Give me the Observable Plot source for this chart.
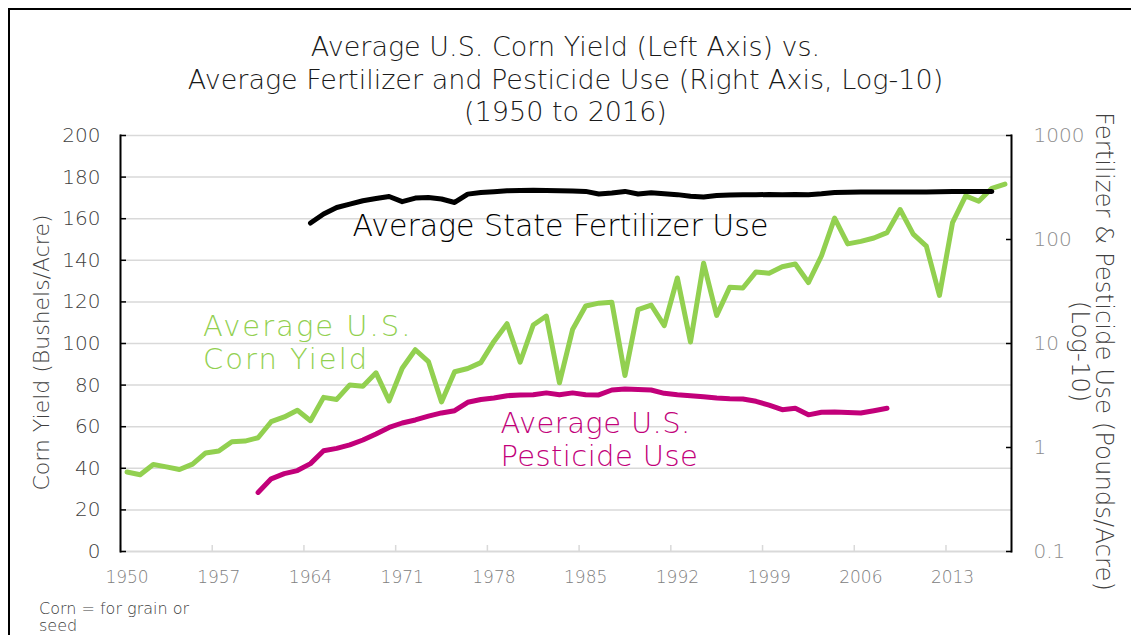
<!DOCTYPE html>
<html><head><meta charset="utf-8">
<script src="https://cdn.jsdelivr.net/npm/d3@7"></script>
<script src="https://cdn.jsdelivr.net/npm/@observablehq/plot@0.6"></script>
<style>
body{margin:0;background:#fff;font-family:"DejaVu Sans ExtraLight","DejaVu Sans",sans-serif;font-weight:200;overflow:hidden;}
#frame{position:absolute;left:8px;top:8px;width:1200px;height:700px;border:2px solid #000;pointer-events:none;}
#title{height:120px;box-sizing:border-box;padding-top:31px;text-align:center;font-size:27px;line-height:32.5px;color:#1a1a1a;white-space:nowrap;}
#caption{padding-left:39px;padding-top:0px;font-size:16px;line-height:17px;color:#404040;}
#chart svg{display:block;overflow:visible;}
#chart svg text{font-weight:200;}
</style></head>
<body>
<div id="title">Average U.S. Corn Yield (Left Axis) vs.<br>Average Fertilizer and Pesticide Use (Right Axis, Log-10)<br>(1950 to 2016)</div>
<div id="chart"></div>
<div id="caption">Corn = for grain or<br>seed</div>
<div id="frame"></div>
<script>
// Corn yield, bushels/acre, 1950–2017
const cornStart = 1950;
const cornYield = [38.2,36.9,41.8,40.7,39.4,42.0,47.4,48.3,52.8,53.1,
  54.7,62.4,64.7,67.9,62.9,74.1,73.1,80.1,79.5,85.9,
  72.4,88.1,97.0,91.3,71.9,86.4,88.0,90.8,101.0,109.5,
  91.0,108.9,113.2,81.1,106.7,118.0,119.4,119.8,84.6,116.3,
  118.5,108.6,131.5,100.7,138.6,113.5,127.1,126.7,134.4,133.8,
  136.9,138.2,129.3,142.2,160.3,147.9,149.1,150.7,153.3,164.4,
  152.6,146.8,123.1,158.1,171.0,168.4,174.6,176.6];
// Average state fertilizer use, pounds/acre, 1964–2016
const fertStart = 1964;
const fertilizerUse = [144,176,203,219,236,248,259,231,250,254,
  245,227,273,283,288,294,296,298,296,294,
  292,290,274,280,290,274,282,276,270,260,
  256,265,268,270,269,271,269,271,269,275,
  283,285,286,286,286,286,286,287,288,289,
  290,290,289];
// Average U.S. pesticide use, pounds/acre, 1960–2008
const pestStart = 1960;
const pesticideUse = [0.37,0.50,0.56,0.60,0.70,0.93,0.98,1.06,1.18,1.35,
  1.56,1.72,1.84,2.00,2.15,2.26,2.72,2.89,2.99,3.15,
  3.20,3.22,3.35,3.22,3.35,3.22,3.20,3.57,3.66,3.62,
  3.57,3.32,3.22,3.15,3.08,2.99,2.95,2.93,2.78,2.56,
  2.31,2.38,2.06,2.18,2.20,2.17,2.15,2.26,2.38];

const leftTicks = [0,20,40,60,80,100,120,140,160,180,200];
const rightTicks = [0.1,1,10,100,1000];
const xTickYears = [1950,1957,1964,1971,1978,1985,1992,1999,2006,2013];

const labels = [
  {text:"Average State Fertilizer Use", year:1967.2, value:156.6, color:"#000000", size:30, spacing:0},
  {text:"Average U.S.\nCorn Yield", year:1955.8, value:100.6, color:"#92d050", size:29, spacing:2},
  {text:"Average U.S.\nPesticide Use", year:1978.5, value:54, color:"#c2007a", size:29, spacing:0.4}
];

// right (log-10) axis mapped onto the left axis range: 0.1 -> 0, 1000 -> 200
const toLeft = v => (Math.log10(v) + 1) * 50;
const fromLeft = d => Math.pow(10, d / 50 - 1);

const corn = cornYield.map((v,i)=>({year:cornStart+i, value:v}));
const fert = fertilizerUse.map((v,i)=>({year:fertStart+i, value:v}));
const pest = pesticideUse.map((v,i)=>({year:pestStart+i, value:v}));

const lineStyle = {strokeWidth:5, strokeLinecap:"round", strokeLinejoin:"round"};
const noText = () => "";

const plot = Plot.plot({
  width:1131, height:480,
  marginLeft:120, marginRight:120, marginTop:15, marginBottom:49,
  style:{fontFamily:"'DejaVu Sans ExtraLight', 'DejaVu Sans', sans-serif", overflow:"visible", background:"transparent"},
  x:{domain:[1949.5, 2017.5], axis:null},
  y:{domain:[0,200], axis:null},
  marks:[
    Plot.ruleY(leftTicks.slice(1), {stroke:"#d9d9d9", strokeWidth:1.5}),
    Plot.ruleY([0], {stroke:"#d9d9d9", strokeWidth:2}),
    Plot.axisX(xTickYears.map(y=>y-0.5), {anchor:"bottom", tickSize:6, dy:-6, stroke:"#d9d9d9", strokeWidth:1.5, tickFormat:noText, label:null}),
    Plot.axisX(xTickYears, {anchor:"bottom", tickSize:0, tickPadding:19, tickFormat:d=>String(d), fill:"#808080", fontSize:17, label:null}),
    Plot.frame({anchor:"left", stroke:"#000", strokeWidth:2}),
    Plot.axisY(leftTicks, {anchor:"left", tickSize:6, dx:6, stroke:"#000", strokeWidth:1.5, tickFormat:noText, label:null}),
    Plot.axisY(leftTicks, {anchor:"left", tickSize:0, tickPadding:20, fill:"#404040", fontSize:20, label:null}),
    Plot.frame({anchor:"right", stroke:"#000", strokeWidth:2}),
    Plot.axisY(rightTicks.map(toLeft), {anchor:"right", tickSize:6, dx:-6, stroke:"#000", strokeWidth:1.5, tickFormat:noText, label:null}),
    Plot.axisY(rightTicks.map(toLeft), {anchor:"right", tickSize:0, tickPadding:22, fill:"#8c8c8c", fontSize:20, label:null,
      tickFormat:d=>d3.format("~g")(+fromLeft(d).toPrecision(3))}),
    Plot.text(["Corn Yield (Bushels/Acre)"], {frameAnchor:"left", textAnchor:"middle", rotate:-90, dx:-79, dy:9, fill:"#404040", fontSize:22}),
    Plot.text(["Fertilizer & Pesticide Use (Pounds/Acre)\n(Log-10)"], {frameAnchor:"right", textAnchor:"middle", rotate:90, dx:80, dy:8, fill:"#404040", fontSize:24.4, lineHeight:0.99, lineAnchor:"middle"}),
    Plot.lineY(corn, {x:"year", y:"value", stroke:"#92d050", ...lineStyle}),
    Plot.lineY(fert, {x:"year", y:d=>toLeft(d.value), stroke:"#000000", ...lineStyle}),
    Plot.lineY(pest, {x:"year", y:d=>toLeft(d.value), stroke:"#c2007a", ...lineStyle}),
    ...labels.map(l => Plot.text([l], {x:"year", y:"value", text:"text", fill:l.color, fontSize:l.size, textAnchor:"start", lineAnchor:"middle", lineHeight:33 / l.size}))
  ]
});
// letter spacing for the in-chart series labels
labels.forEach(l => {
  d3.select(plot).selectAll("g").filter(function() {
    return (this.getAttribute("fill") || "").toLowerCase() === l.color && this.querySelector("text");
  }).selectAll("text").style("letter-spacing", l.spacing + "px");
});
document.getElementById("chart").appendChild(plot);
</script>
</body></html>
